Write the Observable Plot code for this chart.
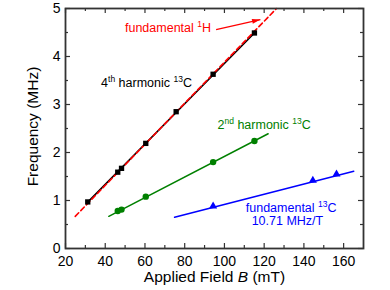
<!DOCTYPE html>
<html>
<head>
<meta charset="utf-8">
<script src="https://cdn.jsdelivr.net/npm/d3@7"></script>
<script src="https://cdn.jsdelivr.net/npm/@observablehq/plot@0.6"></script>
<style>
  html, body { margin: 0; padding: 0; background: #fff; }
</style>
</head>
<body>
<div id="chart"></div>
<script>
// ---- data ----
const squaresB = [31.2, 46.3, 48.2, 60.4, 75.7, 94.3, 115.1];
const squaresF = [0.97, 1.59, 1.67, 2.19, 2.85, 3.63, 4.49];
const circlesB = [46.3, 48.2, 60.4, 94.3, 115.1];
const circlesF = [0.78, 0.81, 1.08, 1.80, 2.24];
const trianglesB = [94.3, 144.5, 156.4];
const trianglesF = [0.88, 1.42, 1.55];

// line segments (endpoints)
const blackLineB = [31.2, 115.1];
const blackLineF = [0.965, 4.49];
const redLineB = [24.9, 126.2];
const redLineF = [0.67, 5.0];
const greenLineB = [41.8, 122.0];
const greenLineF = [0.67, 2.39];
const blueLineB = [74.9, 165.1];
const blueLineF = [0.65, 1.61];

// arrow for "fundamental 1H"
const arrowB = [95.8, 118.1];
const arrowF = [4.56, 4.77];

// annotations
const labelTexts = ["fundamental ^{1}H", "4^{th} harmonic ^{13}C", "2^{nd} harmonic ^{13}C", "fundamental ^{13}C", "10.71 MHz/T"];
const labelB = [71.6, 60.8, 120.0, 133.6, 131.7];
const labelF = [4.6, 3.44, 2.58, 0.84, 0.57];
const labelColors = ["#ff0000", "#000000", "#008000", "#0000ff", "#0000ff"];

// ticks
const xMajor = [20, 40, 60, 80, 100, 120, 140, 160];
const xMinor = [30, 50, 70, 90, 110, 130, 150];
const yMajor = [0, 1, 2, 3, 4, 5];
const yMinor = [0.5, 1.5, 2.5, 3.5, 4.5];

const pts = (bs, fs) => bs.map((b, i) => ({B: b, F: fs[i]}));
const labels = labelTexts.map((t, i) => ({t, B: labelB[i], F: labelF[i], c: labelColors[i]}));

const W = 390, H = 290, mL = 65, mR = 27, mT = 8, mB = 42;
const fw = W - mL - mR, fh = H - mT - mB;
const axisColor = "#333";

const chart = Plot.plot({
  width: W, height: H,
  marginLeft: mL, marginRight: mR, marginTop: mT, marginBottom: mB,
  x: {domain: [20, 170]},
  y: {domain: [0, 5]},
  style: {fontFamily: "'Liberation Sans', Arial, sans-serif", fontSize: "14px", color: "#000", background: "#fff"},
  marks: [
    Plot.axisX({ticks: xMajor, tickSize: 0, tickPadding: 8, fontSize: 14, label: null, tickFormat: d => d}),
    Plot.axisY({ticks: yMajor, tickSize: 0, tickPadding: 5, fontSize: 14, label: null, tickFormat: d => d}),
    // inward ticks (bottom/top/left/right)
    Plot.tickX(xMajor, {x: d => d, insetTop: fh - 5, stroke: axisColor, strokeWidth: 1.2}),
    Plot.tickX(xMajor, {x: d => d, insetBottom: fh - 5, stroke: axisColor, strokeWidth: 1.2}),
    Plot.tickX(xMinor, {x: d => d, insetTop: fh - 3, stroke: axisColor, strokeWidth: 1.2}),
    Plot.tickX(xMinor, {x: d => d, insetBottom: fh - 3, stroke: axisColor, strokeWidth: 1.2}),
    Plot.tickY(yMajor, {y: d => d, insetRight: fw - 5, stroke: axisColor, strokeWidth: 1.2}),
    Plot.tickY(yMajor, {y: d => d, insetLeft: fw - 5, stroke: axisColor, strokeWidth: 1.2}),
    Plot.tickY(yMinor, {y: d => d, insetRight: fw - 3, stroke: axisColor, strokeWidth: 1.2}),
    Plot.tickY(yMinor, {y: d => d, insetLeft: fw - 3, stroke: axisColor, strokeWidth: 1.2}),
    // lines
    Plot.line(pts(blackLineB, blackLineF), {x: "B", y: "F", stroke: "#000", strokeWidth: 1.6}),
    Plot.line(pts(redLineB, redLineF), {x: "B", y: "F", stroke: "#ff0000", strokeWidth: 1.6, strokeDasharray: "5,3"}),
    Plot.line(pts(greenLineB, greenLineF), {x: "B", y: "F", stroke: "#008000", strokeWidth: 1.5}),
    Plot.line(pts(blueLineB, blueLineF), {x: "B", y: "F", stroke: "#0000ff", strokeWidth: 1.5}),
    // markers
    Plot.dot(pts(squaresB, squaresF), {x: "B", y: "F", symbol: "square", r: 3.0, fill: "#000"}),
    Plot.dot(pts(circlesB, circlesF), {x: "B", y: "F", symbol: "circle", r: 3.2, fill: "#008000"}),
    Plot.dot(pts(trianglesB, trianglesF), {x: "B", y: "F", symbol: "triangle", r: 3.0, fill: "#0000ff"}),
    // arrow (filled head added below)
    Plot.link([{x1: arrowB[0], y1: arrowF[0], x2: arrowB[1], y2: arrowF[1]}], {x1: "x1", y1: "y1", x2: "x2", y2: "y2", stroke: "#ff0000", strokeWidth: 1.2, className: "h-arrow"}),
    // annotations
    Plot.text(labels, {x: "B", y: "F", text: "t", fill: "c", fontSize: 12.5, textAnchor: "middle", lineAnchor: "middle"}),
    // axis titles
    Plot.text(["Applied Field *B* (mT)"], {frameAnchor: "bottom", dy: 29, fontSize: 15.5, textAnchor: "middle", lineAnchor: "middle", fill: "#000"}),
    Plot.text(["Frequency (MHz)"], {frameAnchor: "left", rotate: -90, dx: -32, dy: -2, fontSize: 15.5, textAnchor: "middle", lineAnchor: "middle", fill: "#000"}),
    Plot.frame({stroke: axisColor, strokeWidth: 1.8})
  ]
});

document.getElementById("chart").appendChild(chart);

// filled arrowhead marker for the link
(function addHead(svg) {
  const ns = "http://www.w3.org/2000/svg";
  const defs = document.createElementNS(ns, "defs");
  const marker = document.createElementNS(ns, "marker");
  marker.setAttribute("id", "redhead");
  marker.setAttribute("viewBox", "0 0 10 6");
  marker.setAttribute("refX", "10");
  marker.setAttribute("refY", "3");
  marker.setAttribute("markerWidth", "10");
  marker.setAttribute("markerHeight", "5");
  marker.setAttribute("markerUnits", "userSpaceOnUse");
  marker.setAttribute("orient", "auto");
  const p = document.createElementNS(ns, "path");
  p.setAttribute("d", "M0,0L10,3L0,6Z");
  p.setAttribute("fill", "#ff0000");
  marker.appendChild(p);
  defs.appendChild(marker);
  svg.insertBefore(defs, svg.firstChild);
  for (const path of svg.querySelectorAll(".h-arrow path, path.h-arrow")) {
    path.setAttribute("marker-end", "url(#redhead)");
  }
})(chart);

// rich text: ^{...} superscript, *...* italic
(function rich(svg) {
  const ns = "http://www.w3.org/2000/svg";
  for (const t of svg.querySelectorAll("text")) {
    const s = t.textContent;
    if (!/\^\{|\*/.test(s)) continue;
    const fs = parseFloat(getComputedStyle(t).fontSize) || 12;
    const shift = 0.4 * fs;
    while (t.firstChild) t.removeChild(t.firstChild);
    const re = /\^\{([^}]*)\}|\*([^*]*)\*|([^\^*]+)/g;
    let m, shifted = false;
    while ((m = re.exec(s))) {
      const ts = document.createElementNS(ns, "tspan");
      if (m[1] != null) {
        ts.textContent = m[1];
        ts.setAttribute("font-size", (0.68 * fs) + "px");
        if (!shifted) ts.setAttribute("dy", (-shift) + "px");
        shifted = true;
      } else {
        ts.textContent = m[2] != null ? m[2] : m[3];
        if (m[2] != null) ts.setAttribute("font-style", "italic");
        if (shifted) { ts.setAttribute("dy", shift + "px"); shifted = false; }
      }
      t.appendChild(ts);
    }
  }
})(chart);
</script>
</body>
</html>
